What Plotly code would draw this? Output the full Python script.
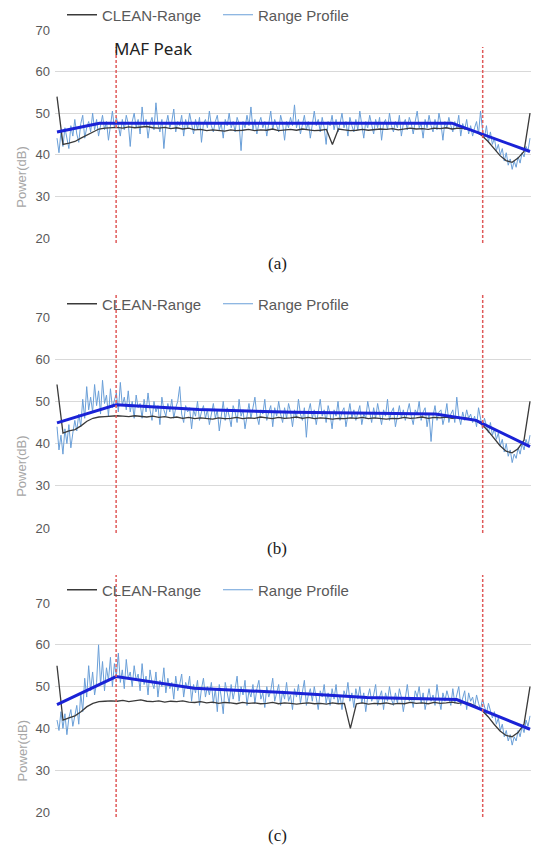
import numpy as np
import plotly.graph_objects as go

# ---------------- data ----------------
panel_labels = ["(a)", "(b)", "(c)"]
y_ticks = [20, 30, 40, 50, 60, 70]
maf_peak_pos = 0.125      # left red dashed marker (MAF Peak), fraction of range
end_cut_pos = 0.9         # right red dashed marker

profile_a = [
    44.0, 40.5, 45.5, 42.0, 46.5, 43.5, 41.5, 47.0, 44.5, 48.5, 45.0, 43.0, 47.5, 49.5, 44.0, 46.5, 48.0, 45.5, 50.0, 46.0,
    48.5, 44.5, 47.0, 49.5, 46.0, 48.0, 43.5, 47.5, 50.5, 46.5, 49.0, 47.0, 44.5, 48.5, 46.0, 49.5, 47.5, 42.0, 48.0, 50.0,
    46.5, 48.5, 45.0, 51.5, 47.0, 48.5, 44.0, 47.5, 49.0, 46.0, 52.5, 47.5, 45.5, 48.5, 41.5, 47.0, 49.5, 46.5, 48.0, 51.0,
    45.5, 48.0, 47.0, 49.5, 44.5, 48.5, 46.5, 50.0, 47.5, 45.0, 48.5, 46.0, 49.0, 43.0, 47.5, 48.5, 46.5, 50.5, 47.0, 45.5,
    48.0, 49.5, 46.0, 47.5, 44.0, 48.5, 47.0, 50.0, 46.5, 48.0, 45.5, 49.0, 47.5, 41.0, 48.0, 46.5, 49.5, 47.0, 51.5, 46.0,
    48.5, 45.0, 47.5, 49.0, 46.5, 48.0, 44.5, 47.5, 50.5, 46.0, 48.5, 47.0, 45.5, 49.5, 47.5, 43.5, 48.0, 46.5, 49.0, 47.0,
    52.0, 46.5, 48.5, 45.0, 47.5, 49.5, 46.0, 48.0, 44.0, 47.5, 50.5, 47.0, 48.5, 45.5, 49.0, 46.5, 42.5, 48.0, 47.0, 49.5,
    46.0, 48.5, 45.5, 47.5, 50.0, 46.5, 48.0, 44.5, 49.0, 47.0, 45.5, 48.5, 46.0, 50.5, 47.5, 44.0, 48.0, 46.5, 49.5, 47.0,
    45.0, 48.5, 46.5, 49.0, 43.5, 47.5, 48.5, 46.0, 50.0, 47.0, 45.5, 48.0, 46.5, 49.5, 44.5, 47.5, 48.5, 46.0, 49.0, 47.5,
    45.0, 48.0, 50.5, 46.5, 47.5, 44.0, 48.5, 46.5, 49.5, 47.0, 45.5, 48.5, 46.0, 50.0, 47.5, 43.5, 48.0, 46.5, 49.0, 47.0,
    45.5, 48.0, 46.5, 49.5, 44.5, 47.5, 46.0, 48.5, 45.0, 47.0, 44.5, 46.5, 48.0, 45.0, 50.5, 46.0, 44.0, 47.0, 43.0, 45.5,
    42.5, 44.0, 41.0, 42.5, 40.0, 41.5, 38.5, 40.5, 37.5, 39.0, 36.5, 38.5, 37.0, 39.5, 38.0, 40.5, 39.5, 42.0, 41.0, 44.0,
]
profile_b = [
    44.0, 38.5, 42.0, 37.5, 43.5, 40.0, 44.5, 39.0, 42.5, 45.5, 43.0, 47.0, 44.0, 50.5, 46.0, 53.5, 48.0, 51.0, 47.5, 54.0,
    49.0, 52.5, 47.0, 55.0, 49.5, 51.5, 46.5, 53.0, 48.5, 50.5, 52.0, 47.5, 54.5, 49.0, 51.0, 48.0, 52.5, 47.5, 50.0, 46.0,
    51.5, 48.5, 49.5, 46.0, 50.5, 47.5, 52.0, 48.0, 45.5, 50.0, 47.5, 49.0, 44.5, 51.0, 48.0, 46.5, 49.5, 47.5, 50.5, 46.0,
    48.5, 50.0, 53.5, 47.0, 45.0, 49.0, 47.5, 48.5, 43.5, 48.0, 46.5, 50.0, 45.5, 47.5, 49.0, 46.0, 48.0, 44.5, 47.5, 49.5,
    46.0, 48.0, 43.0, 47.0, 50.0, 45.5, 48.5, 46.5, 44.0, 49.0, 47.5, 45.0, 50.5, 46.5, 48.0, 43.5, 47.0, 49.5, 46.0, 48.5,
    51.0, 46.5, 44.5, 48.0, 47.0, 50.5, 45.5, 47.5, 49.0, 44.0, 48.5, 46.5, 50.0, 47.0, 45.0, 48.5, 46.0, 49.5, 47.5, 44.0,
    48.0, 46.0, 50.5, 47.0, 45.5, 48.5, 41.5, 47.5, 49.5, 46.0, 48.0, 44.5, 47.5, 50.5, 46.5, 48.0, 45.0, 49.0, 47.0, 43.5,
    48.0, 46.5, 50.0, 45.5, 47.5, 48.5, 44.0, 47.0, 49.5, 46.0, 48.0, 45.5, 47.5, 49.0, 44.5, 47.0, 46.0, 50.0, 47.5, 45.0,
    48.5, 46.0, 49.5, 47.0, 44.5, 48.0, 46.5, 50.5, 45.5, 47.5, 48.5, 44.0, 47.0, 49.0, 46.0, 48.0, 45.5, 47.5, 49.5, 46.5,
    44.5, 48.0, 47.0, 50.0, 45.5, 47.5, 48.5, 44.0, 47.0, 40.5, 46.5, 49.0, 45.5, 47.5, 48.0, 44.5, 46.5, 49.5, 45.0, 47.0,
    48.0, 45.0, 51.0, 46.5, 44.5, 47.5, 45.5, 48.0, 46.0, 47.0, 45.0, 46.5, 44.0, 48.5, 45.5, 43.5, 46.0, 44.5, 42.5, 45.0,
    42.0, 43.5, 41.0, 42.5, 39.5, 41.0, 38.0, 40.0, 37.0, 38.5, 35.5, 37.5, 36.5, 39.0, 37.5, 40.0, 38.5, 41.0, 39.5, 42.0,
]
profile_c = [
    42.0, 39.5, 44.0, 40.0, 43.5, 38.5, 42.5, 44.5, 40.5, 43.0, 45.5, 41.0, 48.5, 44.0, 52.0, 47.5, 55.0, 49.0, 53.5, 48.0,
    51.0, 60.0, 50.5, 56.0, 49.0, 54.5, 51.5, 57.0, 50.0, 55.5, 52.5, 58.0, 51.0, 54.0, 49.5, 56.5, 52.0, 53.5, 50.0, 55.0,
    51.5, 53.0, 49.0, 55.5, 50.5, 52.5, 48.0, 54.0, 51.0, 49.5, 53.5, 47.5, 51.5, 50.0, 54.5, 48.5, 52.0, 49.5, 51.0, 47.0,
    52.5, 49.0, 50.5, 53.0, 47.5, 51.0, 49.5, 52.5, 46.5, 50.5, 48.5, 51.5, 45.5, 49.5, 52.0, 47.5, 50.0, 48.0, 51.0, 46.0,
    49.5, 44.0, 50.5, 47.5, 43.5, 51.0, 48.5, 46.0, 50.5, 47.0, 49.5, 52.5, 46.5, 50.0, 48.0, 51.5, 45.5, 49.0, 47.5, 50.5,
    46.0, 49.5, 51.5, 47.0, 48.5, 45.0, 50.0, 47.5, 49.0, 52.0, 46.5, 48.5, 50.5, 45.5, 49.0, 47.0, 51.0, 46.5, 48.0, 44.5,
    49.5, 47.5, 50.5, 46.0, 48.5, 51.5, 45.5, 48.0, 49.5, 46.5, 50.0, 47.0, 44.5, 49.0, 47.5, 50.5, 46.0, 48.5, 45.5, 49.5,
    47.0, 50.5, 46.0, 48.0, 44.5, 49.0, 47.5, 51.0, 46.5, 48.5, 45.0, 49.5, 47.0, 50.0, 46.0, 48.5, 44.0, 47.5, 49.5, 46.5,
    48.0, 50.5, 45.5, 47.5, 49.0, 44.5, 48.5, 46.5, 50.0, 47.0, 45.5, 48.5, 46.0, 49.5, 47.5, 44.0, 48.0, 50.5, 46.5, 47.5,
    45.0, 49.0, 47.5, 50.0, 46.0, 48.5, 44.5, 47.5, 49.5, 46.5, 48.0, 45.5, 50.5, 47.0, 44.5, 48.5, 46.5, 49.0, 47.5, 45.5,
    49.5, 46.0, 48.0, 50.0, 45.5, 47.5, 49.0, 44.5, 48.5, 46.5, 47.5, 45.0, 48.0, 46.0, 44.5, 47.0, 45.5, 43.5, 46.0, 44.0,
    42.5, 44.0, 41.0, 42.5, 39.5, 41.0, 38.0, 39.5, 37.0, 38.5, 36.0, 38.0, 37.0, 39.5, 38.0, 40.5, 39.0, 42.0, 40.5, 43.0,
]

clean_a = [
    54.0, 42.5, 42.8, 43.2, 44.0, 44.8, 45.6, 46.2, 46.4, 46.5,
    46.6, 46.4, 46.7, 46.5, 46.6, 46.8, 46.5, 46.4, 46.6, 46.3,
    46.5, 46.2, 46.4, 46.0, 46.1, 45.8, 46.0, 45.9, 45.7, 46.0,
    45.8, 45.9, 46.1, 45.8, 46.0, 45.9, 46.2, 45.8, 46.0, 46.1,
    45.9, 46.2, 46.0, 45.8, 45.9, 46.1, 42.5, 46.2, 46.0, 45.8,
    45.9, 46.1, 45.9, 46.0, 46.2, 46.1, 46.3, 46.0, 46.2, 46.4,
    46.2, 46.3, 46.1, 46.4, 46.3, 46.5, 46.2, 46.4, 46.3, 46.0,
    45.5, 44.6, 43.2, 41.5, 39.8, 38.6, 38.2, 39.2, 40.8, 50.0,
]
clean_b = [
    54.0, 42.5, 43.0, 43.3, 44.2, 45.3, 46.0, 46.3, 46.4, 46.5,
    46.6, 46.5, 46.4, 46.6, 46.5, 46.3, 46.5, 46.2, 46.4, 46.1,
    46.3, 46.0, 46.2, 45.9, 46.1, 46.0, 45.8, 46.1, 45.9, 46.0,
    46.2, 45.9, 46.1, 46.0, 46.3, 46.1, 45.9, 46.2, 46.0, 46.1,
    46.3, 46.0, 46.2, 45.9, 46.1, 46.0, 45.8, 46.0, 45.9, 46.1,
    46.0, 46.2, 45.9, 46.1, 46.0, 45.8, 46.0, 45.9, 46.2, 46.0,
    46.1, 46.3, 46.0, 46.2, 46.1, 46.3, 46.0, 46.2, 46.1, 45.9,
    45.4, 44.5, 43.0, 41.2, 39.5, 38.2, 37.8, 38.8, 40.8, 50.0,
]
clean_c = [
    55.0, 42.0, 42.5, 43.0, 44.0, 45.2, 46.0, 46.4, 46.5, 46.6,
    46.5, 46.7, 46.4, 46.6, 46.8, 46.5, 46.4, 46.6, 46.3, 46.5,
    46.4, 46.6, 46.3, 46.2, 46.4, 46.1, 46.3, 46.0, 46.2, 46.1,
    45.9, 46.2, 46.0, 46.1, 45.9, 46.0, 46.2, 45.9, 46.1, 46.0,
    45.8, 46.0, 46.1, 45.9, 46.0, 45.8, 46.1, 45.9, 46.0, 40.0,
    45.9, 46.1, 45.8, 46.0, 45.9, 46.1, 45.8, 46.0, 45.9, 46.2,
    46.0, 46.1, 45.9, 46.2, 46.0, 46.1, 46.3, 46.0, 46.2, 45.9,
    45.3, 44.3, 42.8, 41.0, 39.4, 38.3, 38.0, 39.0, 41.0, 50.0,
]

trend_x_a = [0.0, 0.09, 0.835, 1.0]
trend_y_a = [45.5, 47.6, 47.6, 40.8]
trend_x_b = [0.0, 0.125, 0.3, 0.5, 0.8, 0.886, 1.0]
trend_y_b = [44.9, 49.2, 48.1, 47.4, 47.0, 45.5, 39.3]
trend_x_c = [0.0, 0.125, 0.29, 0.48, 0.655, 0.845, 1.0]
trend_y_c = [45.7, 52.4, 49.6, 48.6, 47.4, 46.9, 39.8]

profiles = [profile_a, profile_b, profile_c]
cleans = [clean_a, clean_b, clean_c]
trends_x = [trend_x_a, trend_x_b, trend_x_c]
trends_y = [trend_y_a, trend_y_b, trend_y_c]

# ---------------- layout geometry (page pixels) ----------------
OFF = 8                      # default body margin of the html page
W, H = 539 - OFF, 845 - OFF  # figure size


def px_x(px):
    return (px - OFF) / W


def px_y(py):
    return 1 - (py - OFF) / H


x_dom = [px_x(55), px_x(531)]
panel_px = [(30, 238), (317, 528), (603, 812)]
legend_px = [15, 304, 590]
label_px = [263, 548, 835]
redline_top_px = [47, 293, 575]

GRID = "#d9d9d9"
TICK = "#595959"
PROFILE_COL = "#6a9fd8"
CLEAN_COL = "#3a3a3a"
TREND_COL = "#1a22d6"
RED = "#e05a5a"
FONT = "Liberation Sans, Arial, sans-serif"

fig = go.Figure()
shapes = []
annotations = []
layout_axes = {}

for p in range(3):
    sfx = "" if p == 0 else str(p + 1)
    xa, ya = "x" + sfx, "y" + sfx
    leg = "legend" + sfx
    top, bot = panel_px[p]

    prof = profiles[p]
    cl = cleans[p]
    xp = np.linspace(0, 1, len(prof))
    xc = np.linspace(0, 1, len(cl))

    fig.add_trace(go.Scatter(x=xp, y=prof, mode="lines", name="Range Profile",
                             line=dict(color=PROFILE_COL, width=1), xaxis=xa, yaxis=ya,
                             legend=leg, legendrank=2, hoverinfo="skip"))
    fig.add_trace(go.Scatter(x=xc, y=cl, mode="lines", name="CLEAN-Range",
                             line=dict(color=CLEAN_COL, width=1.3), xaxis=xa, yaxis=ya,
                             legend=leg, legendrank=1, hoverinfo="skip"))
    fig.add_trace(go.Scatter(x=trends_x[p], y=trends_y[p], mode="lines", name="trend",
                             line=dict(color=TREND_COL, width=3), xaxis=xa, yaxis=ya,
                             showlegend=False, hoverinfo="skip"))

    layout_axes["xaxis" + sfx] = dict(domain=x_dom, range=[-2 / 473, 1 + 1 / 473],
                                      showgrid=False, zeroline=False, showline=False,
                                      showticklabels=False, ticks="", anchor=ya,
                                      automargin=False)
    layout_axes["yaxis" + sfx] = dict(domain=[px_y(bot), px_y(top)], range=[20, 70],
                                      tickvals=y_ticks, showgrid=True, gridcolor=GRID, gridwidth=1,
                                      zeroline=False, showline=False, ticks="",
                                      tickfont=dict(size=13, color=TICK, family=FONT),
                                      ticklabelstandoff=4, anchor=xa, automargin=False)
    layout_axes[leg] = dict(orientation="h", x=px_x(62), xanchor="left",
                            y=px_y(legend_px[p]), yanchor="middle",
                            font=dict(size=15, color=TICK, family=FONT),
                            bgcolor="rgba(0,0,0,0)", entrywidth=111, entrywidthmode="pixels",
                            itemclick=False, itemdoubleclick=False)

    h_px = bot - top
    for xv in (maf_peak_pos, end_cut_pos):
        shapes.append(dict(type="line", xref=xa, yref=ya + " domain", x0=xv, x1=xv,
                           y0=-5 / h_px, y1=(bot - redline_top_px[p]) / h_px,
                           line=dict(color=RED, width=1.5, dash="3px,2px"), layer="above"))

    annotations.append(dict(text="Power(dB)", xref="paper", yref=ya, x=px_x(22), y=34.5,
                            xanchor="center", yanchor="middle", textangle=-90, showarrow=False,
                            font=dict(size=13, color="#a6a6a6", family=FONT)))
    annotations.append(dict(text=panel_labels[p], xref="paper", yref="paper", x=px_x(277),
                            y=px_y(label_px[p]), xanchor="center", yanchor="middle",
                            showarrow=False,
                            font=dict(size=17, color="#1a1a1a", family="Liberation Serif, serif")))

annotations.append(dict(text="MAF Peak", xref="x", yref="y", x=maf_peak_pos, y=65.5,
                        xanchor="left", yanchor="middle", xshift=-4, showarrow=False,
                        font=dict(size=17, color="#222222", family="Noto Sans, sans-serif")))

fig.update_layout(width=W, height=H, margin=dict(l=0, r=0, t=0, b=0, autoexpand=False),
                  paper_bgcolor="white", plot_bgcolor="white",
                  shapes=shapes, annotations=annotations, **layout_axes)

fig.write_html("out.html")
